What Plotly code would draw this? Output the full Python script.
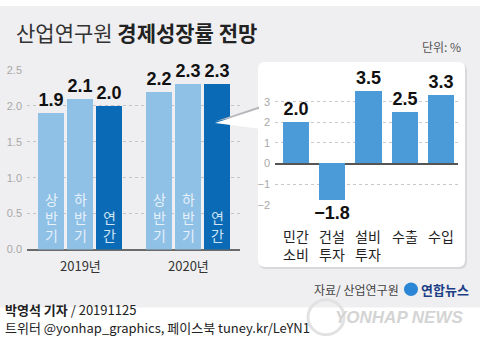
import plotly.graph_objects as go

# ---------------- data ----------------
years = ["2019년", "2020년"]
half_labels = ["상반기", "하반기", "연간"]
growth_2019 = [1.9, 2.1, 2.0]
growth_2020 = [2.2, 2.3, 2.3]
left_ticks = [0.0, 0.5, 1.0, 1.5, 2.0, 2.5]

components = ["민간소비", "건설투자", "설비투자", "수출", "수입"]
comp_values = [2.0, -1.8, 3.5, 2.5, 3.3]
right_ticks = [-2, -1, 0, 1, 2, 3]

# ---------------- layout helpers ----------------
W, H = 480, 359
def px(x):
    return x / W
def py(y):
    return 1 - y / H

def roundrect(x0, y0, x1, y1, r):
    p = lambda x, y: f"{px(x):.5f},{py(y):.5f}"
    return (f"M {p(x0 + r, y0)} L {p(x1 - r, y0)} Q {p(x1, y0)} {p(x1, y0 + r)} "
            f"L {p(x1, y1 - r)} Q {p(x1, y1)} {p(x1 - r, y1)} L {p(x0 + r, y1)} "
            f"Q {p(x0, y1)} {p(x0, y1 - r)} L {p(x0, y0 + r)} Q {p(x0, y0)} {p(x0 + r, y0)} Z")

LIGHT = "#8fc0e6"
DARK = "#0a6ab5"
MID = "#4b9bd8"
BG = "#efeff1"
KR = "Noto Sans CJK KR"
NUM = "Liberation Sans"

group_gap = 1.72
group_step = len(half_labels) - 1 + group_gap
left_x = []
left_y = []
left_colors = []
for g, vals in enumerate([growth_2019, growth_2020]):
    for i, v in enumerate(vals):
        left_x.append(g * group_step + i)
        left_y.append(v)
        left_colors.append(DARK if i == len(vals) - 1 else LIGHT)

fig = go.Figure()

fig.add_trace(go.Bar(
    x=left_x, y=left_y, width=0.88,
    marker=dict(color=left_colors, line=dict(width=0)),
    text=[f"{v:.1f}" for v in left_y], textposition="outside",
    textfont=dict(family=NUM, size=18, color="#111", weight="bold"),
    constraintext="none", cliponaxis=False,
    xaxis="x", yaxis="y", showlegend=False, hoverinfo="skip",
))

comp_x = list(range(len(components)))
fig.add_trace(go.Bar(
    x=comp_x, y=comp_values, width=0.72,
    marker=dict(color=MID, line=dict(width=0)),
    text=[f"{v:.1f}".replace("-", "\u2212") for v in comp_values], textposition="outside",
    textfont=dict(family=NUM, size=18, color="#111", weight="bold"),
    constraintext="none", cliponaxis=False,
    xaxis="x2", yaxis="y2", showlegend=False, hoverinfo="skip",
))

shapes = [
    dict(type="rect", xref="paper", yref="paper", x0=0, x1=1, y0=py(312), y1=1,
         fillcolor=BG, line=dict(width=0), layer="below"),
    dict(type="path", xref="paper", yref="paper", path=roundrect(259, 60, 467, 272, 7),
         fillcolor="#d9d9dc", line=dict(width=0), layer="below"),
    dict(type="path", xref="paper", yref="paper", path=roundrect(258, 58, 465, 270, 7),
         fillcolor="white", line=dict(width=0), layer="below"),
    dict(type="path", xref="paper", yref="paper",
         path=f"M {px(215)},{py(119.5)} L {px(259)},{py(104)} L {px(259)},{py(110)} Z",
         fillcolor="#b8b8bc", line=dict(width=0), layer="above"),
    dict(type="path", xref="paper", yref="paper",
         path=f"M {px(215)},{py(121)} L {px(260)},{py(106)} L {px(260)},{py(127)} Z",
         fillcolor="white", line=dict(width=0), layer="above"),
    dict(type="circle", xref="paper", yref="paper", x0=px(404), x1=px(418), y0=py(300), y1=py(286),
         fillcolor="#2c86d6", line=dict(width=0)),
    dict(type="circle", xref="paper", yref="paper", x0=px(308), x1=px(344), y0=py(340), y1=py(304),
         fillcolor="rgba(0,0,0,0)", line=dict(width=3, color="#e2e2e2")),
]

annotations = []
for xv, lab, col in zip(left_x, half_labels * 2, left_colors):
    annotations.append(dict(
        x=xv, y=0, xref="x", yref="y", yanchor="bottom", yshift=3,
        text="<br>".join(list(lab)), showarrow=False,
        font=dict(family=KR, size=14, color="#e6f1fa" if col == LIGHT else "#cfe4f6"),
    ))
for g, yr in enumerate(years):
    xc = g * group_step + (len(half_labels) - 1) / 2
    annotations.append(dict(x=xc, y=py(268), xref="x", yref="paper", yanchor="middle",
                            text=yr, showarrow=False,
                            font=dict(family=KR, size=13, color="#333")))
for xv, lab in zip(comp_x, components):
    annotations.append(dict(x=xv, y=py(226), xref="x2", yref="paper", yanchor="top",
                            text=lab[:2] + ("<br>" + lab[2:] if len(lab) > 2 else ""),
                            showarrow=False, font=dict(family=KR, size=14, color="#222")))
annotations += [
    dict(x=px(14), y=py(27), xref="paper", yref="paper", xanchor="left", yanchor="middle",
         text="<span style='color:#333'>산업연구원</span> <b>경제성장률 전망</b>", showarrow=False,
         font=dict(family=KR, size=21, color="#222")),
    dict(x=px(463), y=py(42), xref="paper", yref="paper", xanchor="right", yanchor="middle",
         text="단위: %", showarrow=False, font=dict(family=KR, size=12, color="#555")),
    dict(x=px(401), y=py(293), xref="paper", yref="paper", xanchor="right", yanchor="middle",
         text="자료/ 산업연구원", showarrow=False, font=dict(family=KR, size=12, color="#444")),
    dict(x=px(419), y=py(293), xref="paper", yref="paper", xanchor="left", yanchor="middle",
         text="<b>연합뉴스</b>", showarrow=False, font=dict(family=KR, size=13, color="#1d3f86")),
    dict(x=px(333), y=py(322), xref="paper", yref="paper", xanchor="left", yanchor="middle",
         text="<b>YONHAP NEWS</b>", showarrow=False,
         font=dict(family=NUM, size=17, color="#d4d4d4", style="italic")),
    dict(x=px(3), y=py(314), xref="paper", yref="paper", xanchor="left", yanchor="middle",
         text="<b>박영석 기자</b> / 20191125", showarrow=False,
         font=dict(family=KR, size=13, color="#222")),
    dict(x=px(3), y=py(333), xref="paper", yref="paper", xanchor="left", yanchor="middle",
         text="트위터 @yonhap_graphics, 페이스북 tuney.kr/LeYN1", showarrow=False,
         font=dict(family=KR, size=13, color="#222")),
]

# right axis: 0 at py 163, 21.33 px per unit
r_unit = 21.33
r_zero = 163
r_range = [-2, 3.7]

fig.update_layout(
    width=W, height=H, margin=dict(l=0, r=0, t=0, b=0),
    paper_bgcolor="white", plot_bgcolor="rgba(0,0,0,0)",
    bargap=0, shapes=shapes, annotations=annotations,
    xaxis=dict(domain=[px(27), px(240)], range=[-0.83, 6.51], showgrid=False, zeroline=False,
               showticklabels=False, fixedrange=True),
    yaxis=dict(domain=[py(252), py(66)], range=[0, 2.5], tickvals=left_ticks,
               ticktext=[f"{t:.1f}" for t in left_ticks],
               showgrid=True, gridcolor="#c4c4c8", griddash="dot", gridwidth=1,
               zeroline=True, zerolinecolor="#6a6a6a", zerolinewidth=1.5,
               tickfont=dict(family=NUM, size=11, color="#a8a8a8"), ticks="", ticklabelstandoff=4),
    xaxis2=dict(domain=[px(275), px(458)], range=[-0.58, 4.47], showgrid=False, zeroline=False,
                showticklabels=False, anchor="y2", fixedrange=True),
    yaxis2=dict(domain=[py(r_zero - r_range[0] * r_unit), py(r_zero - r_range[1] * r_unit)],
                range=r_range, anchor="x2", tickvals=right_ticks,
                ticktext=[str(t).replace("-", "\u2212") for t in right_ticks],
                showgrid=True, gridcolor="#c8c8cc", griddash="dot", gridwidth=1,
                zeroline=True, zerolinecolor="#555", zerolinewidth=1.5,
                tickfont=dict(family=NUM, size=11, color="#a8a8a8"), ticks="", ticklabelstandoff=4),
)

fig.write_html("out.html", config={"displayModeBar": False},
               post_script="document.body.style.margin='0';")
